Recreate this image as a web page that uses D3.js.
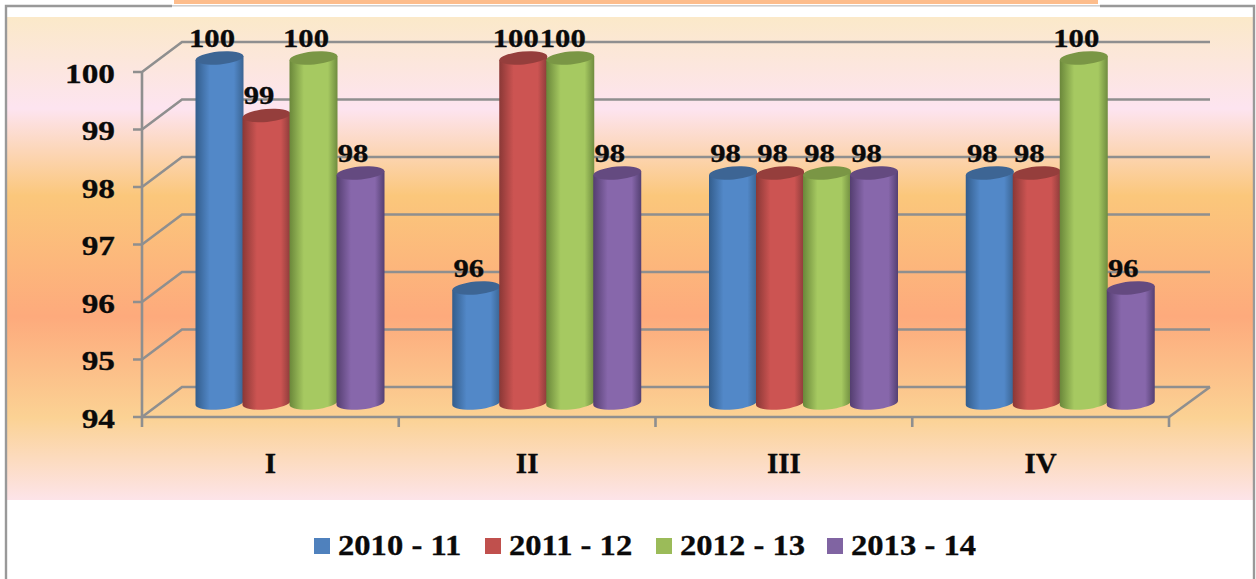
<!DOCTYPE html>
<html><head><meta charset="utf-8">
<script src="https://cdn.jsdelivr.net/npm/d3@7/dist/d3.min.js"></script>
<style>html,body{margin:0;padding:0;background:#fff}svg{display:block}
text{font-family:"Liberation Serif",serif;font-weight:700;fill:#0a0a0a;stroke:#0a0a0a;stroke-width:.3px}</style></head>
<body><svg id="c" width="1256" height="579"></svg>
<script>
const categories = ["I","II","III","IV"];
const seriesNames = ["2010 - 11","2011 - 12","2012 - 13","2013 - 14"];
const values2010 = [100,96,98,98];
const values2011 = [99,100,98,98];
const values2012 = [100,100,98,100];
const values2013 = [98,98,98,96];
const yTicks = [94,95,96,97,98,99,100];
const seriesValues = [values2010,values2011,values2012,values2013];
const seriesColors = [
 {l:"#335d8c",m:"#5288c8",r:"#3a6492",top:"#3d6594",leg:"#4f81bd"},
 {l:"#8a3836",m:"#cc5452",r:"#8c3c3a",top:"#953e3c",leg:"#c0504d"},
 {l:"#6a873a",m:"#a6c961",r:"#6f8c3f",top:"#7a9645",leg:"#9bbb59"},
 {l:"#543e70",m:"#8767ab",r:"#544072",top:"#644a80",leg:"#8064a2"}];

const svg = d3.select("#c");
const defs = svg.append("defs");
const bg = defs.append("linearGradient").attr("id","bg").attr("x1",0).attr("x2",0).attr("y1",0).attr("y2",1);
[[0,"#fbe9c9"],[.19,"#fde4f0"],[.37,"#fbc77b"],[.62,"#fdaa7c"],[.83,"#fbd294"],[1,"#fde4e9"]]
 .forEach(s=>bg.append("stop").attr("offset",s[0]).attr("stop-color",s[1]));
seriesColors.forEach((c,i)=>{
  const g=defs.append("linearGradient").attr("id","cyl"+i);
  [[0,c.l],[.3,c.m],[.55,c.m],[.8,c.m],[1,c.r]].forEach(s=>g.append("stop").attr("offset",s[0]).attr("stop-color",s[1]));
});

// frame
svg.append("rect").attr("x",6).attr("y",6).attr("width",1248).attr("height",590).attr("fill","#fff");
svg.append("rect").attr("x",7).attr("y",17).attr("width",1246).attr("height",483).attr("fill","url(#bg)");
svg.append("path").attr("d","M6 579V6H172").attr("fill","none").attr("stroke","#999").attr("stroke-width",2.4);
svg.append("path").attr("d","M1100 6H1254V579").attr("fill","none").attr("stroke","#999").attr("stroke-width",2.4);
svg.append("rect").attr("x",174).attr("y",0).attr("width",924).attr("height",4).attr("fill","#fdbd8c");
svg.append("rect").attr("x",172).attr("y",5).attr("width",928).attr("height",1.6).attr("fill","#cfcfcf");

// scales
const x = d3.scaleBand().domain(categories).range([142,1169]);
const y = d3.scaleLinear().domain([94,100]).range([417,72]);
const inner = d3.scaleBand().domain(d3.range(4)).range([54,242]);
const depthX = 40, depthY = 30, barDY = 14;
const gridColor = "#8f8f8f";

// back wall & floor
const axisG = svg.append("g").attr("fill","none").attr("stroke",gridColor).attr("stroke-width",2.6);
yTicks.forEach(t=>{
  axisG.append("path").attr("d",d3.line()([[133,y(t)],[142,y(t)],[142+depthX,y(t)-depthY],[1169+depthX+1,y(t)-depthY]]));
});
axisG.append("path").attr("d",`M1169 ${y(94)}L${1169+depthX+1} ${y(94)-depthY}`);
axisG.append("path").attr("d",`M142 ${y(100)}V${y(94)}H1169`);
[...categories.map(c=>x(c)),1169].forEach(v=>axisG.append("path").attr("d",`M${v} ${y(94)}V${y(94)+10}`));

// cylinders
const rx = 24, ry = 6.4, tilt = -5;
const bars = svg.append("g");
categories.forEach((cat,ci)=>{
  seriesValues.forEach((vals,si)=>{
    const cx = x(cat)+inner(si)+inner.bandwidth()/2, v = vals[ci];
    const yt = y(v)-barDY, yb = y(94)-barDY;
    const sdy = rx*Math.sin(-tilt*Math.PI/180)*0.98;
    const g = bars.append("g");
    g.append("path").attr("d",
      `M${cx-rx} ${yt+sdy}L${cx-rx} ${yb+sdy}A${rx} ${ry} ${tilt} 0 0 ${cx+rx} ${yb-sdy}L${cx+rx} ${yt-sdy}Z`)
      .attr("fill",`url(#cyl${si})`);
    g.append("ellipse").attr("cx",cx).attr("cy",yt).attr("rx",rx).attr("ry",ry)
      .attr("transform",`rotate(${tilt} ${cx} ${yt})`).attr("fill",seriesColors[si].top);
  });
});
// wide text helper: stretches glyphs horizontally about the anchor point
function wideText(px,py,str,size,sx,anchor){
  svg.append("text").attr("transform",`translate(${px},${py}) scale(${sx},1)`)
    .attr("text-anchor",anchor).attr("font-size",size).text(str);
}
// data labels
categories.forEach((cat,ci)=>{
  seriesValues.forEach((vals,si)=>{
    const cx = x(cat)+inner(si)+inner.bandwidth()/2, v = vals[ci];
    wideText(cx-7.5,y(v)-barDY-11.5,v,26,1.18,"middle");
  });
});
// axis labels
yTicks.forEach(t=>wideText(115,y(t)+10.5,t,28,1.19,"end"));
categories.forEach(c=>wideText(x(c)+x.bandwidth()/2,473,c,29,1,"middle"));
// legend
const legendX = d3.scalePoint().domain(seriesNames).range([314,827]);
seriesNames.forEach((n,i)=>{
  const lx = legendX(n);
  svg.append("rect").attr("x",lx).attr("y",538).attr("width",16).attr("height",16).attr("fill",seriesColors[i].leg);
  wideText(lx+24,555,n,29,1.125,"start");
});
</script></body></html>
